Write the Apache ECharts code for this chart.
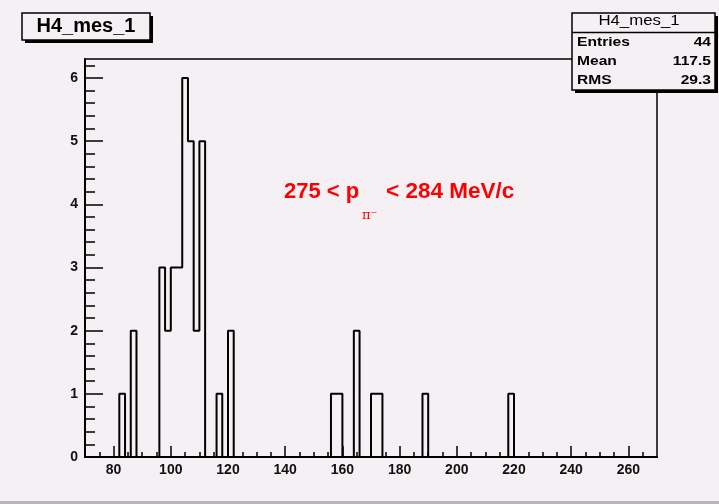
<!DOCTYPE html>
<html>
<head>
<meta charset="utf-8">
<script src="https://cdn.jsdelivr.net/npm/echarts@6/dist/echarts.min.js"></script>
<style>
html,body{margin:0;padding:0;background:#f4f0f4}
#chart{width:719px;height:504px}
</style>
</head>
<body>
<div id="chart"></div>
<script>
// histogram H4_mes_1, bins of width 2 from 70 to 270, only non-empty bins listed
const binWidth = 2
const xMin = 70, xMax = 270
const binLow = [82, 86, 96, 98, 100, 102, 104, 106, 108, 110, 116, 120, 156, 158, 164, 170, 172, 188, 218]
const binCount = [1, 2, 3, 2, 3, 3, 6, 5, 2, 5, 1, 2, 1, 1, 2, 1, 1, 1, 1]
const xTickLabels = [80, 100, 120, 140, 160, 180, 200, 220, 240, 260]
const yTickLabels = [0, 1, 2, 3, 4, 5, 6]
const yMax = 6.3
const statNames = ["Entries", "Mean", "RMS"]
const statValues = ["44", "117.5", "29.3"]
const histName = "H4_mes_1"

// full list of bins (empty ones = 0), points at left edges for a step line
let nBins = (xMax - xMin) / binWidth
let counts = []
for (let i = 0; i < nBins; i++) counts.push(0)
binLow.forEach((lo, k) => { counts[(lo - xMin) / binWidth] = binCount[k] })
let stepData = []
for (let i = 0; i < nBins; i++) stepData.push([xMin + i * binWidth, counts[i]])
stepData.push([xMax, counts[nBins - 1]])

let xMinor = []
for (let v = xMin + 5; v < xMax; v += 5) xMinor.push(v)
let yMinor = []
for (let i = 1; i < 32; i++) yMinor.push(Math.round(i * 2) / 10)

const bg = "#f4f0f4"
const labelFont = { color: "#111", fontSize: 14, fontWeight: "bold", fontFamily: "Liberation Sans, Arial, sans-serif" }

function statText(txt, x, y, align, opts) {
	return {
		type: "text", x: x, y: y, scaleX: 1.2, z: 20,
		style: Object.assign({
			text: txt, x: 0, y: 0, fill: "#000",
			font: "bold 13px 'Liberation Sans', Arial, sans-serif",
			align: align, textAlign: align, verticalAlign: "middle", textVerticalAlign: "middle"
		}, opts || {})
	}
}

let graphics = [
	// bottom border of the canvas
	{ type: "rect", shape: { x: 0, y: 501, width: 719, height: 3 }, style: { fill: "#b8b6b8" }, z: 1 },
	// title box
	{ type: "rect", shape: { x: 25, y: 16, width: 128, height: 27 }, style: { fill: "#000" }, z: 10 },
	{ type: "rect", shape: { x: 22, y: 13, width: 128, height: 27 }, style: { fill: bg, stroke: "#000", lineWidth: 1.5 }, z: 11 },
	{
		type: "text", x: 86, y: 26.5, z: 12,
		style: {
			text: histName, x: 0, y: 0, fill: "#000",
			font: "bold 20px 'Liberation Sans', Arial, sans-serif",
			align: "center", textAlign: "center", verticalAlign: "middle", textVerticalAlign: "middle"
		}
	},
	// stats box
	{ type: "rect", shape: { x: 575, y: 16, width: 143, height: 77 }, style: { fill: "#000" }, z: 15 },
	{ type: "rect", shape: { x: 572, y: 13, width: 143, height: 77 }, style: { fill: bg, stroke: "#000", lineWidth: 1.5 }, z: 16 },
	{ type: "line", shape: { x1: 572, y1: 32.5, x2: 715, y2: 32.5 }, style: { stroke: "#000", lineWidth: 1.5 }, z: 17 },
	{
		type: "text", x: 639, y: 21, scaleX: 1.2, z: 20,
		style: {
			text: histName, x: 0, y: 0, fill: "#000",
			font: "14px 'Liberation Sans', Arial, sans-serif",
			align: "center", textAlign: "center", verticalAlign: "middle", textVerticalAlign: "middle"
		}
	},
	// momentum range label
	{
		type: "text", x: 284, y: 203, z: 20,
		style: {
			text: "275 < p", x: 0, y: 0, fill: "#ff0000",
			font: "bold 22px 'Liberation Sans', Arial, sans-serif",
			align: "left", textAlign: "left", verticalAlign: "bottom", textVerticalAlign: "bottom"
		}
	},
	{
		type: "text", x: 362, y: 222, z: 20,
		style: {
			text: "π⁻", x: 0, y: 0, fill: "#ff0000",
			font: "13px 'DejaVu Serif', serif",
			align: "left", textAlign: "left", verticalAlign: "bottom", textVerticalAlign: "bottom"
		}
	},
	{
		type: "text", x: 386, y: 203, z: 20,
		style: {
			text: "< 284 MeV/c", x: 0, y: 0, fill: "#ff0000",
			font: "bold 22.5px 'Liberation Sans', Arial, sans-serif",
			align: "left", textAlign: "left", verticalAlign: "bottom", textVerticalAlign: "bottom"
		}
	}
]
statNames.forEach((n, i) => {
	graphics.push(statText(n, 577, 42 + i * 19, "left"))
	graphics.push(statText(statValues[i], 711, 42 + i * 19, "right"))
})

var myChart = echarts.init(document.getElementById("chart"))
myChart.setOption({
	backgroundColor: bg,
	animation: false,
	grid: {
		left: 85, top: 59, width: 572, height: 398,
		show: true, borderColor: "#000", borderWidth: 1.5, backgroundColor: "transparent"
	},
	xAxis: [
		{
			type: "value", min: xMin, max: xMax, position: "bottom",
			axisLine: { show: true, onZero: false, lineStyle: { color: "#000", width: 2 } },
			axisTick: { show: true, inside: true, length: 11, customValues: xTickLabels, lineStyle: { color: "#000", width: 1.5 } },
			axisLabel: Object.assign({ customValues: xTickLabels, margin: 6 }, labelFont),
			splitLine: { show: false }
		},
		{
			type: "value", min: xMin, max: xMax, position: "bottom",
			axisLine: { show: false },
			axisTick: { show: true, inside: true, length: 5, customValues: xMinor, lineStyle: { color: "#000", width: 1.5 } },
			axisLabel: { show: false },
			splitLine: { show: false }
		}
	],
	yAxis: [
		{
			type: "value", min: 0, max: yMax, position: "left",
			axisLine: { show: true, onZero: false, lineStyle: { color: "#000", width: 2 } },
			axisTick: { show: true, inside: true, length: 18, customValues: yTickLabels, lineStyle: { color: "#000", width: 1.5 } },
			axisLabel: Object.assign({ customValues: yTickLabels, margin: 7 }, labelFont),
			splitLine: { show: false }
		},
		{
			type: "value", min: 0, max: yMax, position: "left",
			axisLine: { show: false },
			axisTick: { show: true, inside: true, length: 10, customValues: yMinor, lineStyle: { color: "#000", width: 1.5 } },
			axisLabel: { show: false },
			splitLine: { show: false }
		}
	],
	series: [
		{
			name: histName,
			type: "line",
			xAxisIndex: 0,
			yAxisIndex: 0,
			step: "end",
			symbol: "none",
			data: stepData,
			lineStyle: { color: "#000", width: 2 },
			z: 5
		}
	],
	graphic: graphics
})
</script>
</body>
</html>
